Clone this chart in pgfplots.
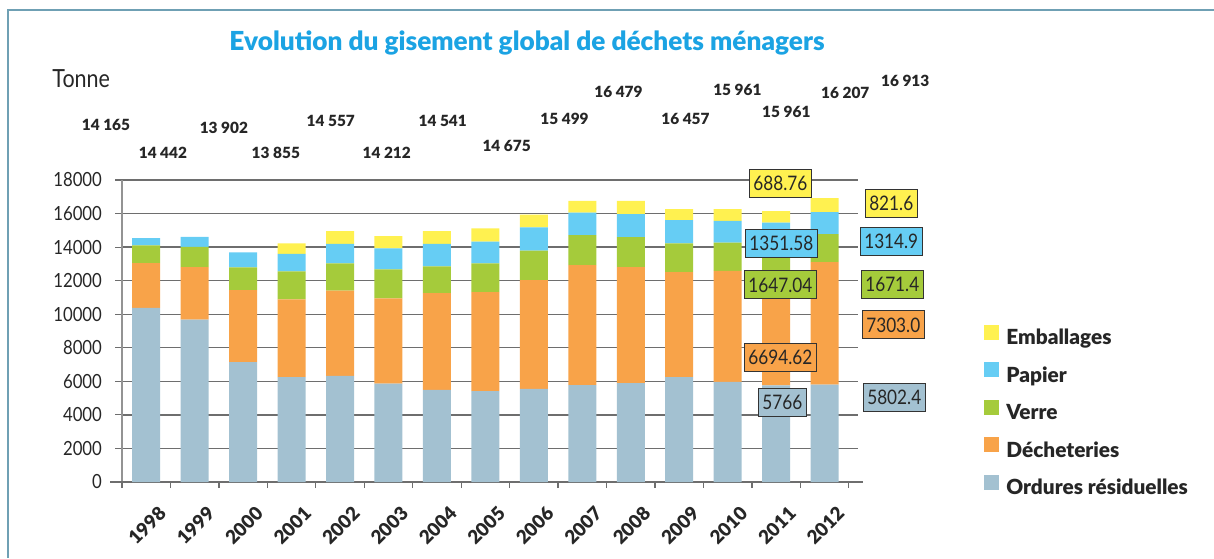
\documentclass[border=0pt]{standalone}
\usepackage{pgfplots}
\pgfplotsset{compat=1.18}
\usepackage{pgfplotstable}
\usepackage{fontspec}
\setmainfont{Lato}[FakeStretch=0.86]
\newfontfamily\blk{Lato Black}
\definecolor{cOR}{HTML}{A3C1D1}
\definecolor{cD}{HTML}{F8A349}
\definecolor{cV}{HTML}{A5CB3B}
\definecolor{cP}{HTML}{66CDF4}
\definecolor{cE}{HTML}{FFF150}
\definecolor{titlec}{HTML}{1BA3E3}
\definecolor{framec}{HTML}{6FA0B4}
\definecolor{gridc}{HTML}{6E6E6E}
\definecolor{boxc}{HTML}{333333}

\pgfplotstableread{
idx OR D V P E
0 10380 2670 1060 420 0
1 9680 3130 1200 600 0
2 7150 4290 1350 900 0
3 6250 4630 1670 1040 640
4 6330 5070 1630 1160 760
5 5870 5070 1730 1260 720
6 5490 5770 1590 1340 760
7 5410 5910 1710 1300 780
8 5550 6490 1750 1380 760
9 5770 7160 1780 1340 700
10 5890 6920 1780 1380 780
11 6250 6260 1720 1380 660
12 5970 6620 1680 1300 700
13 5766 6694.62 1647.04 1351.58 688.76
14 5802.4 7303.0 1671.4 1314.9 821.6
}\data

\begin{document}
\begin{tikzpicture}
\path[use as bounding box] (0,0) rectangle (607pt,279pt);
\draw[framec, line width=1pt] (4pt,0) -- (4pt,274pt) -- (607pt,274pt);
\node[anchor=base, inner sep=0pt, font=\blk\fontsize{13.1}{15}\selectfont, text=titlec] at (263.5pt,253.5pt) {Evolution du gisement global de déchets ménagers};
\node[anchor=base west, inner sep=0pt, font=\fontsize{12.5}{14}\selectfont, text=black!85] at (26pt,235pt) {Tonne};
\begin{axis}[
  at={(61pt,38pt)}, anchor=south west, scale only axis,
  width=368pt, height=151pt,
  xmin=-0.5, xmax=14.69, ymin=0, ymax=18000,
  ybar stacked, bar width=14pt,
  axis lines*=left,
  axis line style={color=gray!85, line width=0.6pt},
  ymajorgrids, grid style={color=gridc, line width=0.7pt},
  ytick={0,2000,...,18000},
  scaled y ticks=false,
  xtick={0,...,14},
  xticklabels={1998,1999,2000,2001,2002,2003,2004,2005,2006,2007,2008,2009,2010,2011,2012},
  minor xtick={-0.5,0.5,...,14.5},
  tick align=outside,
  major tick length=3.5pt, minor tick length=3pt,
  major x tick style={draw=none},
  tick style={color=gridc, line width=0.6pt},
  yticklabel style={font=\fontsize{9.75}{10}\selectfont, text=black!85, xshift=-3pt},
  xticklabel style={font=\blk\fontsize{9.4}{10}\selectfont, text=black!85, rotate=45, anchor=north east, inner sep=0pt, xshift=-1.5pt, yshift=-9.5pt},
  /pgf/number format/1000 sep={},
  /pgf/number format/assume math mode=true,
  clip=false,
  legend cell align=left,
  reverse legend,
  legend image code/.code={\fill[#1] (0pt,0pt) rectangle (7.5pt,7.5pt);},
  legend style={at={(1.163,0.536)}, anchor=north west, draw=none, fill=none,
    font=\blk\fontsize{10.4}{12}\selectfont, text=black!85,
    nodes={inner sep=0pt, text height=7.5pt, text depth=2.5pt},
    row sep=6.25pt, column sep=3.5pt},
]
\addplot[fill=cOR, draw=none] table[x=idx, y=OR] {\data};
\addplot[fill=cD, draw=none] table[x=idx, y=D] {\data};
\addplot[fill=cV, draw=none] table[x=idx, y=V] {\data};
\addplot[fill=cP, draw=none] table[x=idx, y=P] {\data};
\addplot[fill=cE, draw=none] table[x=idx, y=E] {\data};
\legend{Ordures résiduelles, Décheteries, Verre, Papier, Emballages}

\draw[gridc, line width=0.7pt] ([xshift=-6pt]axis cs:-0.5,0) -- ([xshift=2.5pt]axis cs:14.69,0);

\tikzset{tl/.style={font=\blk\fontsize{7.7}{8}\selectfont, text=black!85, inner sep=0pt}}
\node[tl] at (axis cs:-0.83,21276) {14 165};
\node[tl] at (axis cs:0.345,19607) {14 442};
\node[tl] at (axis cs:1.603,21097) {13 902};
\node[tl] at (axis cs:2.675,19607) {13 855};
\node[tl] at (axis cs:3.809,21515) {14 557};
\node[tl] at (axis cs:4.964,19607) {14 212};
\node[tl] at (axis cs:6.119,21515) {14 541};
\node[tl] at (axis cs:7.438,20026) {14 675};
\node[tl] at (axis cs:8.634,21634) {15 499};
\node[tl] at (axis cs:9.747,23244) {16 479};
\node[tl] at (axis cs:11.129,21634) {16 457};
\node[tl] at (axis cs:12.201,23363) {15 961};
\node[tl] at (axis cs:13.211,22052) {15 961};
\node[tl] at (axis cs:14.428,23184) {16 207};
\node[tl] at (axis cs:15.665,23900) {16 913};

\coordinate (a1) at (axis cs:13.088,17821);
\coordinate (a2) at (axis cs:13.108,14245);
\coordinate (a3) at (axis cs:13.088,11742);
\coordinate (a4) at (axis cs:13.088,7450);
\coordinate (a5) at (axis cs:13.129,4768);
\coordinate (b1) at (axis cs:15.376,16629);
\coordinate (b2) at (axis cs:15.376,14364);
\coordinate (b3) at (axis cs:15.397,11801);
\coordinate (b4) at (axis cs:15.418,9358);
\coordinate (b5) at (axis cs:15.438,5066);
\end{axis}
\tikzset{bx/.style={draw=boxc, line width=0.5pt, font=\fontsize{10}{12}\selectfont, text=black!85, inner xsep=2pt, inner ysep=0pt, minimum height=14pt}}
\node[bx, fill=cE] at (a1) {688.76};
\node[bx, fill=cP] at (a2) {1351.58};
\node[bx, fill=cV] at (a3) {1647.04};
\node[bx, fill=cD] at (a4) {6694.62};
\node[bx, fill=cOR] at (a5) {5766};
\node[bx, fill=cE] at (b1) {821.6};
\node[bx, fill=cP] at (b2) {1314.9};
\node[bx, fill=cV] at (b3) {1671.4};
\node[bx, fill=cD] at (b4) {7303.0};
\node[bx, fill=cOR] at (b5) {5802.4};
\end{tikzpicture}
\end{document}
